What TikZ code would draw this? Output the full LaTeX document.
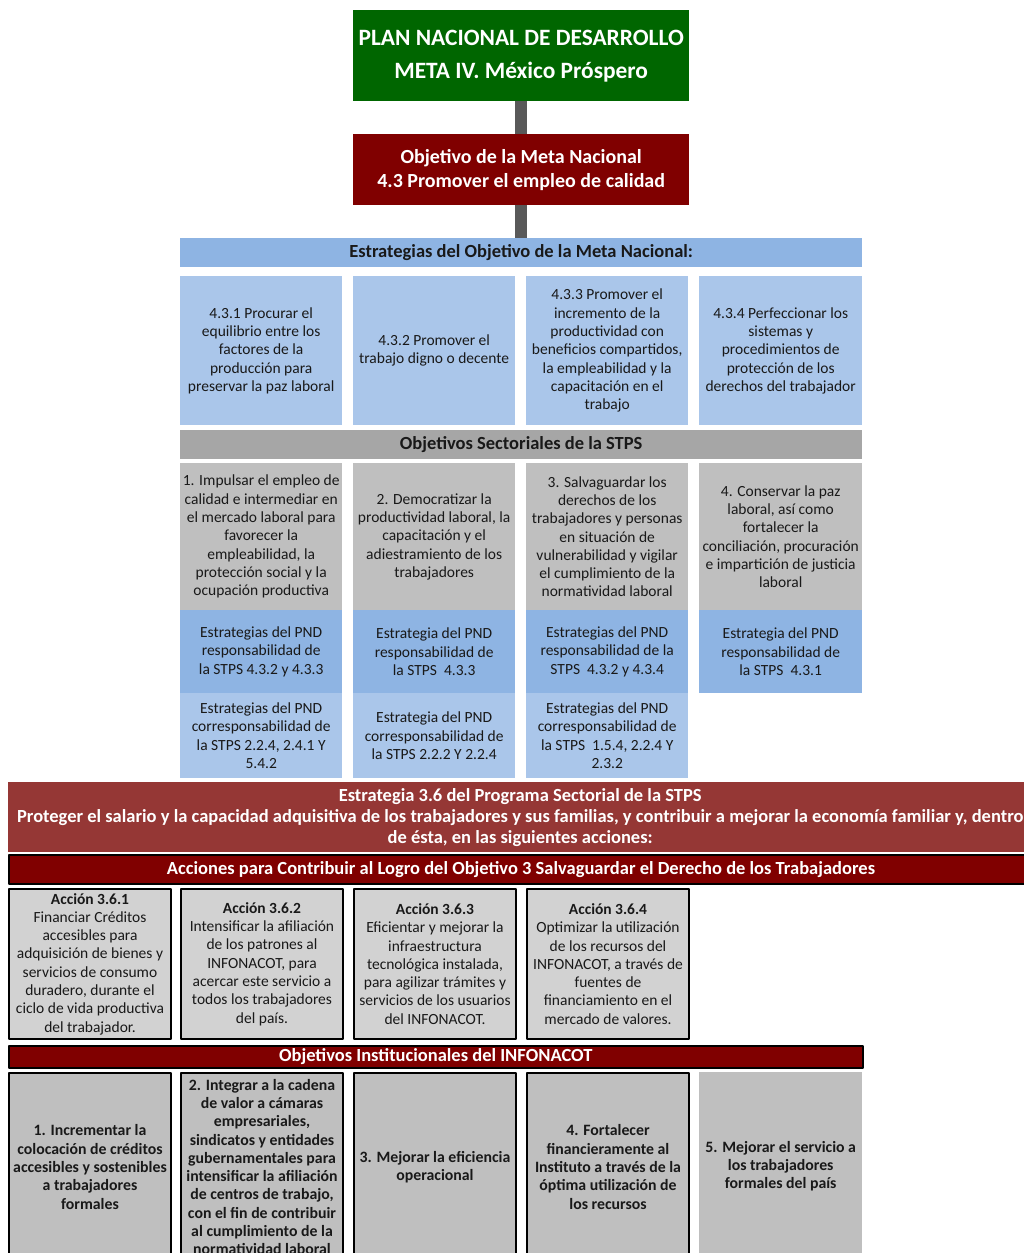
\documentclass[tikz,border=0pt]{standalone}
\usepackage{fontspec}
\setmainfont{Carlito}
\newcommand\fsz[2]{\fontsize{#1}{#2}\selectfont}
\definecolor{pndgreen}{RGB}{0,102,0}
\definecolor{darkred}{RGB}{128,0,0}
\definecolor{brickred}{RGB}{149,55,53}
\definecolor{hdrblue}{RGB}{142,180,227}
\definecolor{boxblue}{RGB}{170,198,234}
\definecolor{hdrgray}{RGB}{166,166,166}
\definecolor{boxgray}{RGB}{191,191,191}
\definecolor{actgray}{RGB}{210,210,210}
\definecolor{bargray}{RGB}{89,89,89}
\definecolor{txt}{RGB}{25,25,25}
\begin{document}
\begin{tikzpicture}[x=1pt, y=-1pt, line join=round,
  box/.style={anchor=north west, inner sep=0pt, align=center, text=txt, font=\fsz{15.5}{18.3}},
  col/.style={minimum width=162pt},
  head/.style={box, font=\bfseries\fsz{18.5}{21}},
  lined/.style={draw=black, line width=2pt},
  bold/.style={font=\bfseries\fsz{15.8}{18.3}},
  bar/.style={draw=bargray, line width=12pt}]
\useasboundingbox (0,0) rectangle (1024,1253);
% plan y objetivo de la meta
\node[box, fill=pndgreen, minimum width=336pt, minimum height=91pt, text=white, font=\bfseries\fsz{23.4}{33}] (plan) at (353,10)
  {PLAN NACIONAL DE DESARROLLO\\META IV. México Próspero};
\node[box, fill=darkred, minimum width=336pt, minimum height=71pt, text=white, font=\bfseries\fsz{20}{24}] (meta) at (353,134)
  {Objetivo de la Meta Nacional\\4.3 Promover el empleo de calidad};
\node[head, fill=hdrblue, minimum width=682pt, minimum height=29pt] (estr) at (180,238)
  {Estrategias del Objetivo de la Meta Nacional:};
\draw[bar] (plan) -- (meta);
\draw[bar] (meta) -- (estr);
% estrategias 4.3.x
\node[box, col, fill=boxblue, minimum height=149pt] (e1) at (180,276)
  {4.3.1 Procurar el\\equilibrio entre los\\factores de la\\producción para\\preservar la paz laboral};
\node[box, col, fill=boxblue, minimum height=149pt] (e2) at (353,276)
  {4.3.2 Promover el\\trabajo digno o decente};
\node[box, col, fill=boxblue, minimum height=149pt] (e3) at (526,276)
  {4.3.3 Promover el\\incremento de la\\productividad con\\beneficios compartidos,\\la empleabilidad y la\\capacitación en el\\trabajo};
\node[box, col, fill=boxblue, minimum height=149pt, minimum width=163pt] (e4) at (699,276)
  {4.3.4 Perfeccionar los\\sistemas y\\procedimientos de\\protección de los\\derechos del trabajador};
% objetivos sectoriales
\node[head, fill=hdrgray, minimum width=682pt, minimum height=29pt] (osec) at (180,430)
  {Objetivos Sectoriales de la STPS};
\node[box, col, fill=boxgray, minimum height=147pt] (o1) at (180,463)
  {1. Impulsar el empleo de\\calidad e intermediar en\\el mercado laboral para\\favorecer la\\empleabilidad, la\\protección social y la\\ocupación productiva};
\node[box, col, fill=boxgray, minimum height=147pt] (o2) at (353,463)
  {2. Democratizar la\\productividad laboral, la\\capacitación y el\\adiestramiento de los\\trabajadores};
\node[box, col, fill=boxgray, minimum height=147pt] (o3) at (526,463)
  {3. Salvaguardar los\\derechos de los\\trabajadores y personas\\en situación de\\vulnerabilidad y vigilar\\el cumplimiento de la\\normatividad laboral};
\node[box, col, fill=boxgray, minimum height=147pt, minimum width=163pt] (o4) at (699,463)
  {4. Conservar la paz\\laboral, así como\\fortalecer la\\conciliación, procuración\\e impartición de justicia\\laboral};
% estrategias del PND
\node[box, col, fill=hdrblue, minimum height=83pt] (r1) at (180,610)
  {Estrategias del PND\\responsabilidad de\\la STPS 4.3.2 y 4.3.3};
\node[box, col, fill=hdrblue, minimum height=83pt] (r2) at (353,610)
  {Estrategia del PND\\responsabilidad de\\la STPS\ \ 4.3.3};
\node[box, col, fill=hdrblue, minimum height=83pt] (r3) at (526,610)
  {Estrategias del PND\\responsabilidad de la\\STPS\ \ 4.3.2 y 4.3.4};
\node[box, col, fill=hdrblue, minimum height=83pt, minimum width=163pt] (r4) at (699,610)
  {Estrategia del PND\\responsabilidad de\\la STPS\ \ 4.3.1};
\node[box, col, fill=boxblue, minimum height=85pt] (c1) at (180,693)
  {Estrategias del PND\\corresponsabilidad de\\la STPS 2.2.4, 2.4.1 Y\\5.4.2};
\node[box, col, fill=boxblue, minimum height=85pt] (c2) at (353,693)
  {Estrategia del PND\\corresponsabilidad de\\la STPS 2.2.2 Y 2.2.4};
\node[box, col, fill=boxblue, minimum height=85pt] (c3) at (526,693)
  {Estrategias del PND\\corresponsabilidad de\\la STPS\ \ 1.5.4, 2.2.4 Y\\2.3.2};
% estrategia 3.6 y acciones
\node[head, fill=brickred, text=white, minimum width=1024pt, minimum height=70pt] (est36) at (8,782)
  {Estrategia 3.6 del Programa Sectorial de la STPS\\Proteger el salario y la capacidad adquisitiva de los trabajadores y sus familias, y contribuir a mejorar la economía familiar y, dentro\\de ésta, en las siguientes acciones:};
\node[head, lined, fill=darkred, text=white, minimum width=1024pt, minimum height=29pt] (acc) at (8,854)
  {Acciones para Contribuir al Logro del Objetivo 3 Salvaguardar el Derecho de los Trabajadores};
\node[box, col, lined, fill=actgray, minimum height=150pt] (a1) at (8,888)
  {\textbf{Acción 3.6.1}\\Financiar Créditos\\accesibles para\\adquisición de bienes y\\servicios de consumo\\duradero, durante el\\ciclo de vida productiva\\del trabajador.};
\node[box, col, lined, fill=actgray, minimum height=150pt] (a2) at (180,888)
  {\textbf{Acción 3.6.2}\\Intensificar la afiliación\\de los patrones al\\INFONACOT, para\\acercar este servicio a\\todos los trabajadores\\del país.};
\node[box, col, lined, fill=actgray, minimum height=150pt] (a3) at (353,888)
  {\textbf{Acción 3.6.3}\\Eficientar y mejorar la\\infraestructura\\tecnológica instalada,\\para agilizar trámites y\\servicios de los usuarios\\del INFONACOT.};
\node[box, col, lined, fill=actgray, minimum height=150pt] (a4) at (526,888)
  {\textbf{Acción 3.6.4}\\Optimizar la utilización\\de los recursos del\\INFONACOT, a través de\\fuentes de\\financiamiento en el\\mercado de valores.};
% objetivos institucionales
\node[head, draw=black, line width=1.5pt, fill=darkred, text=white, minimum width=854pt, minimum height=22pt] (oinst) at (8,1045)
  {Objetivos Institucionales del INFONACOT};
\node[box, col, lined, bold, fill=boxgray, minimum height=188pt] (i1) at (8,1072)
  {1. Incrementar la\\colocación de créditos\\accesibles y sostenibles\\a trabajadores\\formales};
\node[box, col, lined, bold, fill=boxgray, minimum height=188pt] (i2) at (180,1072)
  {2. Integrar a la cadena\\de valor a cámaras\\empresariales,\\sindicatos y entidades\\gubernamentales para\\intensificar la afiliación\\de centros de trabajo,\\con el fin de contribuir\\al cumplimiento de la\\normatividad laboral};
\node[box, col, lined, bold, fill=boxgray, minimum height=188pt] (i3) at (353,1072)
  {3. Mejorar la eficiencia\\operacional};
\node[box, col, lined, bold, fill=boxgray, minimum height=188pt] (i4) at (526,1072)
  {4. Fortalecer\\financieramente al\\Instituto a través de la\\óptima utilización de\\los recursos};
\node[box, col, bold, fill=boxgray, minimum height=188pt, minimum width=163pt] (i5) at (699,1072)
  {5. Mejorar el servicio a\\los trabajadores\\formales del país};
\end{tikzpicture}
\end{document}
